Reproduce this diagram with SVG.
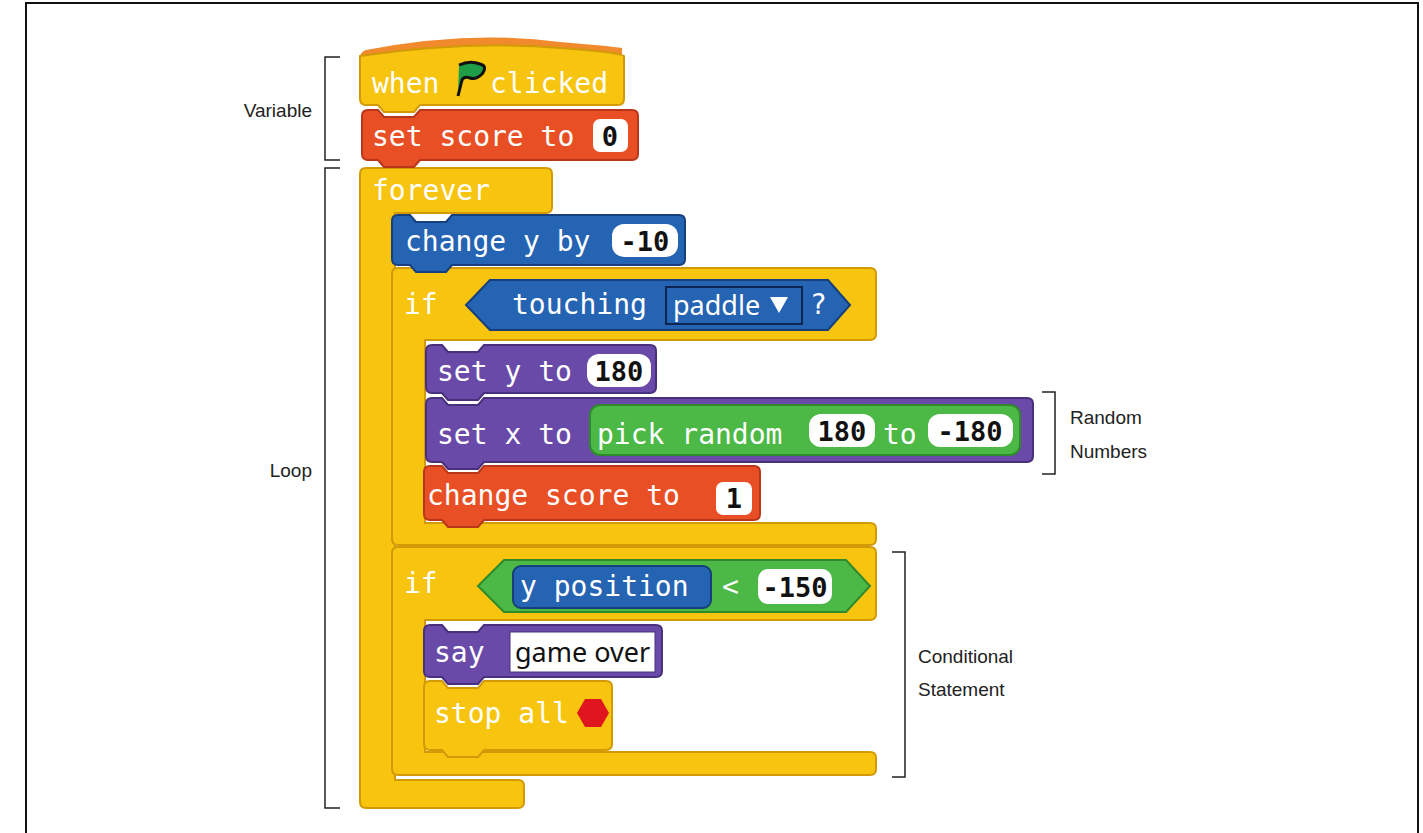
<svg xmlns="http://www.w3.org/2000/svg" width="1423" height="833" viewBox="0 0 1423 833">
<style>
.t{font-family:"DejaVu Sans Mono","Liberation Mono",monospace;font-size:28px;fill:#fff}
.n{font-family:"DejaVu Sans Mono","Liberation Mono",monospace;font-size:27px;fill:#111;font-weight:bold;text-anchor:middle}
.s{font-family:"Noto Sans","Liberation Sans",sans-serif;font-size:27px;fill:#111}
.lab{font-family:"Liberation Sans","Noto Sans",sans-serif;font-size:19px;fill:#222}
.y{fill:#f7c40f;stroke:#d39a08;stroke-width:2}
.r{fill:#e94f24;stroke:#b8361a;stroke-width:2}
.b{fill:#2563b3;stroke:#163f7c;stroke-width:2}
.p{fill:#6a4aa8;stroke:#48307c;stroke-width:2}
.g{fill:#4cb845;stroke:#2f8a2c;stroke-width:2}
.w{fill:#fff}
.br{fill:none;stroke:#222;stroke-width:1.5}
</style>
<rect x="26" y="3" width="1392" height="850" fill="none" stroke="#111" stroke-width="2"/>
<g id="brackets">
<path class="br" d="M340,57 H325 V160 H340"/>
<path class="br" d="M340,168 H325 V808 H340"/>
<path class="br" d="M1042,392 H1055 V474 H1042"/>
<path class="br" d="M892,552 H905 V777 H892"/>
<text class="lab" x="312" y="117" text-anchor="end">Variable</text>
<text class="lab" x="312" y="477" text-anchor="end">Loop</text>
<text class="lab" x="1070" y="424">Random</text>
<text class="lab" x="1070" y="458">Numbers</text>
<text class="lab" x="918" y="663">Conditional</text>
<text class="lab" x="918" y="696">Statement</text>
</g>
<g id="forever">
<path class="y" d="M366,168 H546 Q552,168 552,174 V207 Q552,213 546,213 H395 V780 H518 Q524,780 524,786 V802 Q524,808 518,808 H366 Q360,808 360,802 V174 Q360,168 366,168 Z"/>
<text class="t" x="372" y="200">forever</text>
</g>
<g id="if1">
<path class="y" d="M398,268 H870 Q876,268 876,274 V334 Q876,340 870,340 H425 V523 H870 Q876,523 876,529 V539 Q876,545 870,545 H398 Q392,545 392,539 V274 Q392,268 398,268 Z"/>
<text class="t" x="404" y="314">if</text>
</g>
<g id="if2">
<path class="y" d="M398,547 H870 Q876,547 876,553 V614 Q876,620 870,620 H425 V752 H870 Q876,752 876,758 V769 Q876,775 870,775 H398 Q392,775 392,769 V553 Q392,547 398,547 Z"/>
<text class="t" x="404" y="593">if</text>
</g>
<g id="hat">
<path d="M360,58 Q360,52 366,50 Q470,30 560,42 Q610,46 622,48 V58 Z" fill="#f08a2c"/>
<path class="y" d="M360,56 Q470,40 560,48 Q618,52 624,56 V99 Q624,105 618,105 H420 L414,112 H384 L378,105 H366 Q360,105 360,99 Z"/>
<text class="t" x="372" y="93">when</text>
<path d="M459,65 Q470,60 480,64 Q488,66 482,74 Q476,80 470,78 Q464,76 462,80 L458,96" fill="#1f9e4a" stroke="#111" stroke-width="3" stroke-linejoin="round"/>
<text class="t" x="490" y="93">clicked</text>
</g>
<g id="setscore">
<path class="r" d="M368,110 H378 L384,117 H414 L420,110 H632 Q638,110 638,116 V154 Q638,160 632,160 H420 L414,167 H384 L378,160 H368 Q362,160 362,154 V116 Q362,110 368,110 Z"/>
<text class="t" x="372" y="146">set score to</text>
<rect class="w" x="593" y="119" width="35" height="33" rx="7"/>
<text class="n" x="610" y="146">0</text>
</g>
<g id="changey">
<path class="b" d="M398,215 H410 L416,222 H446 L452,215 H679 Q685,215 685,221 V259 Q685,265 679,265 H452 L446,272 H416 L410,265 H398 Q392,265 392,259 V221 Q392,215 398,215 Z"/>
<text class="t" x="405" y="251">change y by</text>
<rect class="w" x="612" y="224" width="66" height="33" rx="12"/>
<text class="n" x="645" y="251">-10</text>
</g>
<g id="touching">
<path class="b" d="M466,305 L490,280 H828 L850,305 L828,330 H490 Z"/>
<text class="t" x="512" y="314">touching</text>
<rect x="666" y="287" width="136" height="37" fill="#2563b3" stroke="#0d2550" stroke-width="2"/>
<text class="s" x="673" y="315" style="fill:#fff">paddle</text>
<path d="M770,297 H788 L779,313 Z" fill="#fff"/>
<text class="t" x="810" y="314">?</text>
</g>
<g id="sety">
<path class="p" d="M432,345 H442 L448,352 H478 L484,345 H650 Q656,345 656,351 V387 Q656,393 650,393 H484 L478,400 H448 L442,393 H432 Q426,393 426,387 V351 Q426,345 432,345 Z"/>
<text class="t" x="437" y="381">set y to</text>
<rect class="w" x="587" y="354" width="64" height="33" rx="12"/>
<text class="n" x="619" y="381">180</text>
</g>
<g id="setx">
<path class="p" d="M432,398 H442 L448,405 H478 L484,398 H1027 Q1033,398 1033,404 V456 Q1033,462 1027,462 H484 L478,469 H448 L442,462 H432 Q426,462 426,456 V404 Q426,398 432,398 Z"/>
<text class="t" x="437" y="444">set x to</text>
<rect class="g" x="590" y="405" width="430" height="50" rx="10"/>
<text class="t" x="597" y="444">pick random</text>
<rect class="w" x="809" y="414" width="66" height="33" rx="12"/>
<text class="n" x="842" y="441">180</text>
<text class="t" x="883" y="444">to</text>
<rect class="w" x="928" y="414" width="85" height="33" rx="12"/>
<text class="n" x="970" y="441">-180</text>
</g>
<g id="changescore">
<path class="r" d="M430,466 H442 L448,473 H478 L484,466 H754 Q760,466 760,472 V514 Q760,520 754,520 H484 L478,527 H448 L442,520 H430 Q424,520 424,514 V472 Q424,466 430,466 Z"/>
<text class="t" x="427" y="505">change score to</text>
<rect class="w" x="716" y="482" width="36" height="33" rx="7"/>
<text class="n" x="734" y="508">1</text>
</g>
<g id="ypos">
<path class="g" d="M478,586 L504,560 H846 L870,586 L846,612 H504 Z"/>
<rect class="b" x="513" y="566" width="198" height="42" rx="8"/>
<text class="t" x="520" y="596">y position</text>
<text class="t" x="722" y="596">&lt;</text>
<rect class="w" x="758" y="569" width="74" height="35" rx="10"/>
<text class="n" x="795" y="597">-150</text>
</g>
<g id="say">
<path class="p" d="M430,625 H442 L448,632 H478 L484,625 H656 Q662,625 662,631 V671 Q662,677 656,677 H484 L478,684 H448 L442,677 H430 Q424,677 424,671 V631 Q424,625 430,625 Z"/>
<text class="t" x="434" y="662">say</text>
<rect x="510" y="632" width="145" height="40" fill="#fff" stroke="#48307c" stroke-width="1"/>
<text class="s" x="515" y="662">game over</text>
</g>
<g id="stopall">
<path class="y" d="M430,681 H442 L448,688 H478 L484,681 H606 Q612,681 612,687 V744 Q612,750 606,750 H484 L478,757 H448 L442,750 H430 Q424,750 424,744 V687 Q424,681 430,681 Z"/>
<text class="t" x="434" y="723">stop all</text>
<polygon points="585,699 601,699 609,713 601,727 585,727 577,713" fill="#e0161e"/>
</g>
</svg>
